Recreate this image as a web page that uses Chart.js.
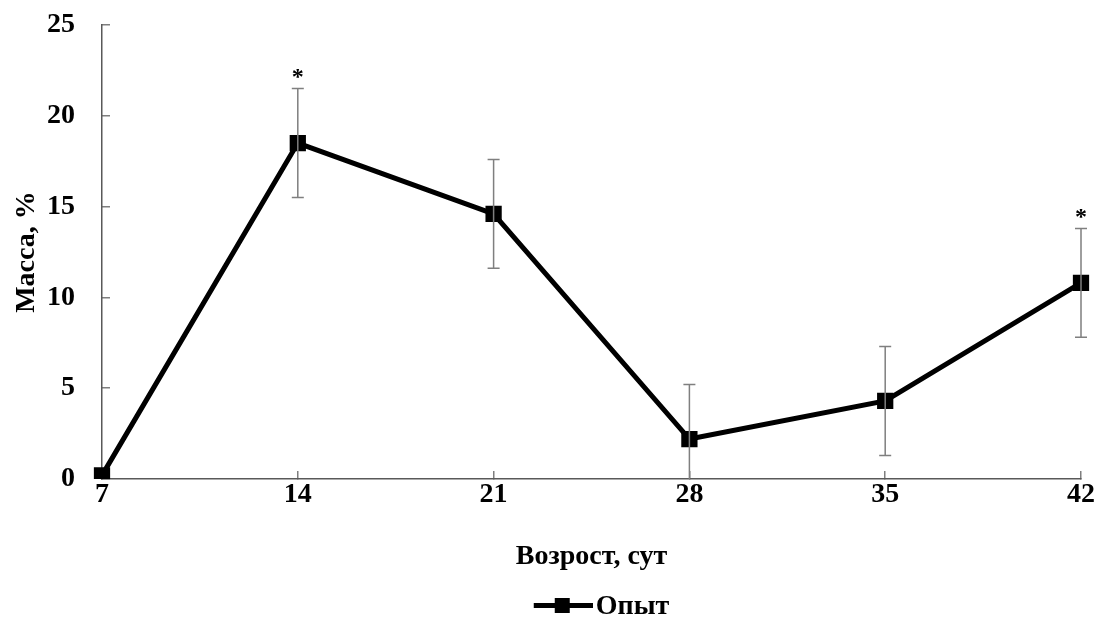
<!DOCTYPE html>
<html>
<head>
<meta charset="utf-8">
<script src="https://cdn.jsdelivr.net/npm/chart.js@4/dist/chart.umd.min.js"></script>
<style>
  html, body { margin: 0; padding: 0; background: #fff; }
  #wrap { width: 1099px; height: 617px; }
</style>
</head>
<body>
<div id="wrap"><canvas id="massChart" width="1099" height="617"></canvas></div>
<script>
const ages = ["7", "14", "21", "28", "35", "42"];
const mass = [0.2, 18.5, 14.6, 2.2, 4.3, 10.8];
const massErr = [0, 3, 3, 3, 3, 3];
const signif = ["", "*", "", "", "", "*"];

const yTicks = [0, 5, 10, 15, 20, 25];
const seriesName = "Опыт";

const font = "'Liberation Serif', 'Times New Roman', serif";

// legend symbol: line with a square marker (drawn right of the box centre)
function legendIcon() {
    const c = document.createElement("canvas");
    c.width = 90;
    c.height = 40;
    const g = c.getContext("2d");
    g.fillStyle = "#000";
    g.fillRect(31, 16, 59, 5);
    g.fillRect(52, 11, 15, 15);
    return c;
}

// error bars + significance marks, placed through the scales
const errorBars = {
    id: "errorBars",
    afterDatasetsDraw(chart) {
        const ctx = chart.ctx;
        const x = chart.scales.x;
        const y = chart.scales.y;
        ctx.save();
        ctx.strokeStyle = "#7f7f7f";
        ctx.lineWidth = 1.5;
        mass.forEach((v, i) => {
            const px = x.getPixelForValue(i);
            const e = massErr[i];
            if (e > 0) {
                const top = y.getPixelForValue(v + e);
                const lo = Math.max(v - e, y.min);
                const bot = y.getPixelForValue(lo);
                ctx.beginPath();
                ctx.moveTo(px, top);
                ctx.lineTo(px, bot);
                ctx.moveTo(px - 6, top);
                ctx.lineTo(px + 6, top);
                if (v - e >= y.min) {
                    ctx.moveTo(px - 6, bot);
                    ctx.lineTo(px + 6, bot);
                }
                ctx.stroke();
            }
            if (signif[i]) {
                ctx.fillStyle = "#000";
                ctx.font = "bold 24px " + font;
                ctx.textAlign = "center";
                ctx.textBaseline = "middle";
                ctx.fillText(signif[i], px, y.getPixelForValue(v + e) - 11);
            }
        });
        ctx.restore();
    }
};

new Chart(document.getElementById("massChart"), {
    type: "line",
    data: {
        labels: ages,
        datasets: [{
            label: seriesName,
            data: mass,
            borderColor: "#000",
            backgroundColor: "#000",
            borderWidth: 5,
            pointStyle: "rect",
            pointRadius: 11.5,
            pointBorderWidth: 0,
            tension: 0
        }]
    },
    options: {
        responsive: false,
        animation: false,
        layout: { padding: { left: 0, right: 18, top: 25, bottom: -14 } },
        plugins: {
            tooltip: { enabled: false },
            legend: {
                position: "bottom",
                fullSize: false,
                labels: {
                    usePointStyle: true,
                    pointStyleWidth: 68,
                    boxHeight: 14,
                    padding: 0,
                    color: "#000",
                    font: { family: font, size: 28, weight: "bold" },
                    generateLabels: () => [{
                        text: seriesName,
                        pointStyle: legendIcon(),
                        fillStyle: "#000",
                        strokeStyle: "#000",
                        lineWidth: 0,
                        datasetIndex: 0
                    }]
                }
            }
        },
        scales: {
            x: {
                type: "category",
                offset: false,
                grid: {
                    drawOnChartArea: false,
                    tickLength: -8,
                    color: "#7f7f7f",
                    lineWidth: 1.5
                },
                border: { color: "#595959", width: 1.5 },
                ticks: {
                    padding: 7,
                    color: "#000",
                    maxRotation: 0,
                    font: { family: font, size: 28, weight: "bold" }
                },
                title: {
                    display: true,
                    text: "Возрост, сут",
                    color: "#000",
                    padding: { top: 10, bottom: 19 },
                    font: { family: font, size: 28, weight: "bold" }
                },
                afterFit: s => {
                    s.height = 114;
                    s.paddingLeft = 0;
                    s.paddingRight = 0;
                }
            },
            y: {
                min: 0,
                max: 25,
                afterBuildTicks: s => { s.ticks = yTicks.map(v => ({ value: v })); },
                grid: {
                    drawOnChartArea: false,
                    tickLength: -8,
                    color: "#7f7f7f",
                    lineWidth: 1.5
                },
                border: { color: "#595959", width: 1.5 },
                ticks: {
                    padding: 35,
                    color: "#000",
                    font: { family: font, size: 28, weight: "bold" }
                },
                title: {
                    display: true,
                    text: "Масса, %",
                    color: "#000",
                    padding: { top: 10, bottom: 0 },
                    font: { family: font, size: 28, weight: "bold" }
                },
                afterFit: s => {
                    s.width = 102;
                    s.paddingTop = 0;
                    s.paddingBottom = 0;
                }
            }
        }
    },
    plugins: [errorBars]
});
</script>
</body>
</html>
